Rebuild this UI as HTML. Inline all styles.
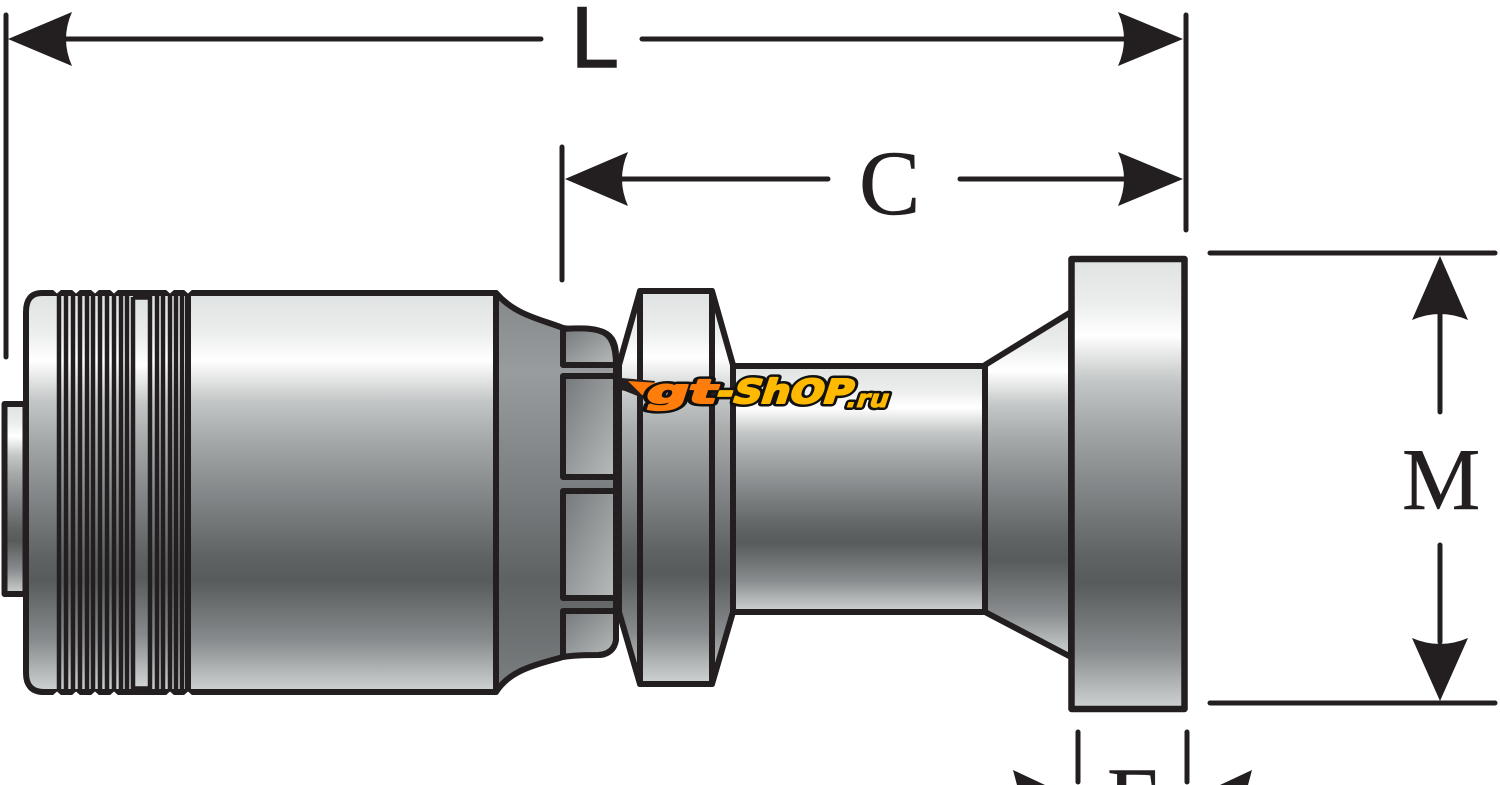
<!DOCTYPE html>
<html><head><meta charset="utf-8"><style>
html,body{margin:0;padding:0;background:#fff;width:1500px;height:785px;overflow:hidden}
svg{display:block}
</style></head><body>
<svg width="1500" height="785" viewBox="0 0 1500 785" xmlns="http://www.w3.org/2000/svg">
<defs>
<linearGradient id="g" x1="0" y1="0" x2="0" y2="1">
<stop offset="0" stop-color="#dfe2e2"/><stop offset=".1" stop-color="#eceeed"/><stop offset=".17" stop-color="#ffffff"/><stop offset=".2" stop-color="#eeeeee"/><stop offset=".27" stop-color="#c4c7c7"/><stop offset=".37" stop-color="#a5a8a8"/><stop offset=".5" stop-color="#85888a"/><stop offset=".66" stop-color="#5f6363"/><stop offset=".72" stop-color="#575b5b"/><stop offset=".87" stop-color="#878b8d"/><stop offset=".95" stop-color="#b4b8b8"/><stop offset="1" stop-color="#d0d3d3"/>
</linearGradient>
<linearGradient id="t" x1="0" y1="0" x2="0" y2="1">
<stop offset="0" stop-color="#85888a"/><stop offset=".2" stop-color="#999c9e"/><stop offset=".5" stop-color="#7a7d7f"/><stop offset=".72" stop-color="#5e6263"/><stop offset="1" stop-color="#7d8082"/>
</linearGradient>
<linearGradient id="w1" x1="0" y1="0" x2="1" y2="1">
<stop offset="0" stop-color="#74787a"/><stop offset="1" stop-color="#b9bcbd"/>
</linearGradient>
</defs>
<g stroke="#231f20" stroke-width="6" stroke-linejoin="round">
<rect x="4.500" y="404" width="21" height="190" fill="url(#g)"/>
<path d="M48 293 H42 Q26 293 26 312 V673 Q26 692 44 692 H190 V293 Z" fill="url(#g)"/>
<rect x="188" y="293" width="308" height="399" fill="url(#g)"/>
<path d="M496 293 C515 315 540 319 563 328 C580 331 590 329 600 331 Q616 335 616 356 V630 Q616 654 600 655 C585 655 570 654 563 657 C535 665 510 670 496 692 Z" fill="url(#t)"/>
<path d="M563 329 Q590 327 600 331 Q616 335 616 365 H563 Z" fill="url(#w1)"/>
<rect x="563" y="376" width="53" height="101" fill="url(#w1)"/>
<rect x="563" y="491" width="53" height="107" fill="url(#w1)"/>
<path d="M563 611 H616 V640 Q614 654 598 655 Q575 655 563 657 Z" fill="url(#w1)"/>
<path d="M640 291 H712 L733 365 V612 L712 684 H640 L619 612 V365 Z" fill="url(#g)"/>
<rect x="640" y="291" width="72" height="393" fill="url(#g)"/>
<rect x="733" y="366" width="252" height="246" fill="url(#g)"/>
<path d="M985 365 L1071 312 V657 L985 612 Z" fill="url(#g)"/>
<rect x="1071.500" y="259" width="113" height="450" fill="url(#g)" stroke-width="6.500"/>
</g>
<rect x="134" y="299" width="14" height="387" fill="url(#g)"/>
<g stroke="#231f20" fill="none">
<path stroke-width="4.500" d="M59 294V691M66 294V691M73 294V691M80 294V691M87 294V691M93 294V691M100 294V691M107 294V691M114 294V691M121 294V691M127 294V691M133 297V689M150 294V691M157 294V691M163 294V691M170 294V691M176 294V691M182 294V691"/>
<path stroke-width="5.500" d="M133 297H150M133 689H150"/>
</g>
<g fill="#fff">
<path d="M71 289H81L76 293.500ZM90 289H100L95 293.500ZM109 289H119L114 293.500ZM165 289H175L170 293.500ZM183 289H193L188 293.500ZM52 289H62L57 293.500Z"/>
<path d="M71 696H81L76 691.500ZM90 696H100L95 691.500ZM109 696H119L114 691.500ZM165 696H175L170 691.500ZM183 696H193L188 691.500ZM52 696H62L57 691.500Z"/>
</g>
<g stroke="#231f20" stroke-width="5" stroke-linecap="round" fill="none">
<path d="M6 15V357M1186 15V230M562 147V280M1210 253H1495M1210 703H1495M1078 732V782M1187 732V782"/>
<path d="M62 39H541M642 39H1126M618 179H828M960 179H1126M1440 312V412M1440 545V642"/>
</g>
<g fill="#231f20">
<path d="M8 39L72 12Q60 39 72 66Z"/>
<path d="M1183 39L1118 12Q1130 39 1118 66Z"/>
<path d="M565 179L628 152Q616 179 628 206Z"/>
<path d="M1183 179L1118 152Q1130 179 1118 206Z"/>
<path d="M1440 256L1412 320Q1440 308 1468 320Z"/>
<path d="M1440 701L1412 638Q1440 650 1468 638Z"/>
<path d="M1013 770L1045 785H1017Z"/>
<path d="M1252 770L1220 785H1248Z"/>
</g>
<g fill="#231f20" stroke="#231f20">
<text x="571" y="67" font-family="Liberation Sans, sans-serif" font-size="86" stroke-width="1.500">L</text>
<text x="859" y="214" font-family="Liberation Serif, serif" font-size="92" stroke-width=".5">C</text>
<text x="1402" y="509" font-family="Liberation Serif, serif" font-size="88" stroke-width=".5">M</text>
<text x="1107" y="831" font-family="Liberation Serif, serif" font-size="92" stroke-width=".5">F</text>
</g>
<path d="M610 377L655 381L650 396L640 397L625 391L612 388L622 386Z" fill="#231f20"/>
<path d="M628 381L660 383L652 395L642 395Z" fill="#ff7a0a"/>
<g font-family="DejaVu Sans, sans-serif" font-weight="700" stroke-linejoin="round">
<g transform="translate(0 403) skewX(-18)">
<g font-size="33">
<text x="644" y="0" textLength="70" lengthAdjust="spacingAndGlyphs" fill="#111" stroke="#111" stroke-width="7">gt</text>
<text x="714" y="0" textLength="136" lengthAdjust="spacingAndGlyphs" fill="#111" stroke="#111" stroke-width="7">-ShOP</text>
</g>
<text x="846" y="4" font-size="24" textLength="42" lengthAdjust="spacingAndGlyphs" fill="#111" stroke="#111" stroke-width="6">.ru</text>
<g font-size="33">
<text x="644" y="0" textLength="70" lengthAdjust="spacingAndGlyphs" fill="#ff7d0a" stroke="#ff7d0a" stroke-width="2">gt</text>
<text x="714" y="0" textLength="136" lengthAdjust="spacingAndGlyphs" fill="#ffb900" stroke="#ffb900" stroke-width="2">-ShOP</text>
</g>
<text x="846" y="4" font-size="24" textLength="42" lengthAdjust="spacingAndGlyphs" fill="#ffb900" stroke="#ffb900" stroke-width="1">.ru</text>
</g>
</g>
</svg>
</body></html>
